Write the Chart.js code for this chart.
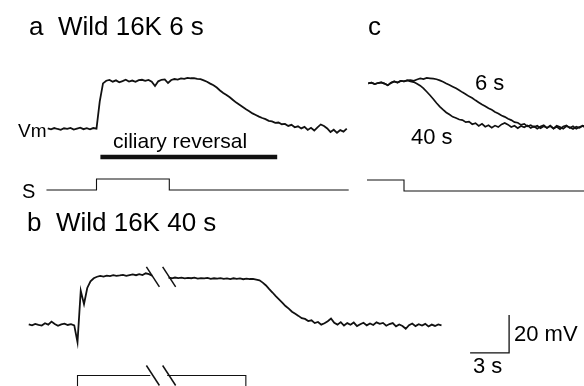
<!DOCTYPE html>
<html>
<head>
<meta charset="utf-8">
<script src="https://cdn.jsdelivr.net/npm/chart.js@4.4.1/dist/chart.umd.min.js"></script>
<style>
    body { margin: 0; background: #fff; }
    #wrap { position: relative; width: 584px; height: 386px; overflow: hidden; }
    #fig { position: absolute; left: 0; top: 0; }
    .lbl { position: absolute; white-space: pre; line-height: 1; color: #000;
           font-family: "Liberation Sans", Arial, Helvetica, sans-serif; }
</style>
</head>
<body>
<div id="wrap">
    <canvas id="fig" width="584" height="386"></canvas>
</div>
<script>
// sampling of the traces (s)
const DT = 0.25;

// a: Wild 16K, 6 s stimulus (mV from rest, first sample at -3.75 s)
const vmA = [
    0.3, -0.2, 0.5, 0.0, -0.4, 0.4, 0.1, 0.6, -0.3, 0.2, 0.7, -0.1, 0.4, -0.2, 0.5, 0.2,
    14.5, 24.0, 25.4,
    25.8, 24.9, 25.6, 24.6, 25.2, 25.9, 25.0, 25.5, 24.8, 25.7, 25.9, 25.3, 25.8, 24.9,
    22.6, 25.1, 25.9, 26.1, 24.2, 25.8, 26.3, 26.0, 26.6, 26.4, 26.9, 26.7, 26.8,
    26.4, 26.2, 25.6, 24.9, 23.9, 23.0, 21.8, 20.3, 19.0, 17.9, 16.7, 15.3, 13.9, 12.8,
    11.6, 10.4, 9.4, 8.2, 7.4, 6.5, 5.8, 5.2, 4.3, 4.0, 3.2, 3.4, 2.5, 2.7, 1.6, 2.2,
    0.9, 1.4, 0.3, 1.1, -0.5, 0.6, -0.8, 0.9, 2.4, 1.6, 0.3, -1.6, -0.4, -2.0, -0.6, -1.4, 0.2
];
const stimTimesA = [-3.85, 0, 0, 5.6, 5.6, 19.4];
const stimLevelsA = [0, 0, 1, 1, 0, 0];
const ciliaryReversal = [0.3, 13.9];

// c: both responses aligned on stimulus offset (first sample at -2.75 s)
const vmCBefore = [23.2, 23.6, 22.9, 23.4, 23.7, 23.1, 22.2, 23.5, 24.2, 23.7, 24.5, 24.3, 24.8];
const vmC6 = [
    25.0, 24.6, 25.3, 25.8, 25.5, 26.1, 25.9, 25.7, 25.4, 24.8,
    24.1, 23.2, 22.4, 21.5, 20.6, 19.6, 18.5, 17.5, 16.4, 15.5,
    14.3, 13.2, 12.1, 11.2, 10.1, 9.3, 8.2, 7.4, 6.3, 5.6,
    4.6, 3.9, 2.8, 2.5, 1.4, 1.9, 0.6, 1.2, 0.2, 0.9,
    -0.4, 0.7, -0.2, 1.0, -0.6, 0.4, -0.9, 0.5, 1.1, -0.3,
    0.6, -0.7, 0.3, 1.0, 0.1
];
const vmC40 = [
    24.3, 23.9, 23.0, 22.0, 20.6, 18.8, 17.0, 15.0, 12.9, 11.0,
    9.4, 7.9, 6.8, 5.6, 5.0, 4.2, 3.9, 2.8, 3.1, 1.7,
    2.3, 0.8, 1.9, 0.4, 1.2, -0.1, 1.0, 0.2, 1.6, 2.4,
    1.5, 0.3, 0.9, -0.4, 0.8, 0.1, 1.1, -0.3, 0.6, -0.6,
    0.5, 1.2, -0.2, 0.8, -0.5, 0.9, 0.2, -0.7, 0.7, 0.1,
    -0.8, 0.4, -0.2, 0.9, -0.4
];
const stimTimesC = [-2.85, 0, 0, 14.0];
const stimLevelsC = [1, 1, 0, 0];

// b: Wild 16K, 40 s stimulus, axis broken (first sample at -3.75 s)
const vmB = [
    0.3, -0.2, 0.6, 0.1, -0.3, 0.9, 0.2, 1.8, 0.5, -0.4, 0.3, 0.7, 0.0, 0.4, -0.2,
    -9.0, 18.0, 11.0, 19.5, 23.0, 24.6, 25.4,
    25.8, 25.5, 26.0, 25.7, 26.2, 25.9, 26.1, 26.4, 25.9, 26.3, 26.6, 26.2, 26.8, 26.3, 27.2, 26.8, 25.9,
    null, null, null, null,
    24.9, 24.6, 25.0, 24.7, 24.9, 24.5, 24.8, 24.6, 24.9, 24.4, 24.7, 24.5, 24.8, 24.3,
    24.6, 24.4, 24.7, 24.3, 24.5, 24.2, 24.6, 24.3, 24.5, 24.1, 24.4, 24.2, 24.3, 23.9,
    23.5, 22.3, 20.8, 18.9, 17.1, 15.2, 13.5, 11.8, 10.0, 8.6,
    7.0, 5.9, 4.8, 3.6, 3.2, 2.1, 2.5, 1.0, 1.6, 0.2,
    0.9, 2.0, 3.4, 1.1, 0.2, 1.5, -0.3, 1.0, 0.1, 1.3,
    -0.6, 0.4, 1.2, -0.2, 0.8, 0.0, 1.4, 0.6, 1.1, -0.4,
    0.5, 1.0, -0.7, 0.3, -0.5, -2.0, -0.1, 0.8, -0.6, 0.4,
    -0.3, 0.6, -0.8, 0.2, -0.5, 0.3, -0.2
];
const stimTimesB = [-3.8, 0, 0, 5.6, 6.2, 6.9, 12.95, 12.95, 28.0];
const stimLevelsB = [0, 0, 1, 1, null, 1, 1, 0, 0];
const breakTimesB = [5.8, 7.05];

// calibration
const scaleBarSec = 3;
const scaleBarMv = 20;

// layout: pixel of (t = 0, level = 0) for each panel, and pixels per unit
const W = 584, H = 386;
const PX_S = 13, PX_MV = 1.9, PX_STIM = 11;
const layout = {
    a:  { x0: 96.5, y0: 129, py: PX_MV },
    sa: { x0: 96.5, y0: 190, py: PX_STIM },
    c:  { x0: 404, y0: 127.5, py: PX_MV },
    sc: { x0: 404, y0: 191, py: PX_STIM },
    b:  { x0: 77.5, y0: 325, py: PX_MV },
    sb: { x0: 77.5, y0: 386.5, py: PX_STIM },
};
const CILIARY_LEVEL = -14.7;   // mV on panel a axes, where the bar sits
const BAR_CORNER = { t: 33.2, v: -14.7 };  // on panel b axes
const BREAK_LEVEL_VM = 25.3;

const labels = [
    { text: "a  Wild 16K 6 s", x: 29, y: 35, size: 26 },
    { text: "c", x: 368, y: 35, size: 26 },
    { text: "b  Wild 16K 40 s", x: 27, y: 231, size: 26 },
    { text: "Vm", x: 18, y: 137, size: 19 },
    { text: "S", x: 22, y: 198, size: 20 },
    { text: "ciliary reversal", x: 113, y: 148, size: 21 },
    { text: "6 s", x: 475, y: 91, size: 22 },
    { text: "40 s", x: 411, y: 145, size: 22 },
    { text: "20 mV", x: 514, y: 342, size: 22 },
    { text: "3 s", x: 473, y: 374, size: 22 },
];

const series = (t0, values) => values.map((v, i) => ({ x: t0 + i * DT, y: v }));
const pairs = (ts, vs) => ts.map((t, i) => ({ x: t, y: vs[i] }));

function buildScales() {
    const scales = {};
    for (const key in layout) {
        const p = layout[key];
        scales['x' + key] = { type: 'linear', display: false, min: -p.x0 / PX_S, max: (W - p.x0) / PX_S };
        scales['y' + key] = { type: 'linear', display: false, min: -(H - p.y0) / p.py, max: p.y0 / p.py };
    }
    return scales;
}

function line(key, data, width) {
    return {
        data: data,
        xAxisID: 'x' + key,
        yAxisID: 'y' + key,
        borderColor: '#111',
        borderWidth: width,
        pointRadius: 0,
        tension: 0,
        spanGaps: false,
        fill: false,
        clip: false,
    };
}

// slashes marking the break in panel b
const breakMarks = {
    id: 'breakMarks',
    afterDatasetsDraw(chart) {
        const ctx = chart.ctx;
        const xs = chart.scales.xb;
        const marks = [[chart.scales.yb, BREAK_LEVEL_VM], [chart.scales.ysb, 1]];
        ctx.save();
        ctx.strokeStyle = '#111';
        ctx.lineWidth = 1.5;
        for (const [ys, level] of marks) {
            for (const t of breakTimesB) {
                const px = xs.getPixelForValue(t);
                const py = ys.getPixelForValue(level);
                ctx.beginPath();
                ctx.moveTo(px - 6.5, py - 10);
                ctx.lineTo(px + 6.5, py + 10);
                ctx.stroke();
            }
        }
        ctx.restore();
    }
};

const datasets = [
    line('a', series(-3.75, vmA), 1.8),
    line('sa', pairs(stimTimesA, stimLevelsA), 1.1),
    line('a', pairs(ciliaryReversal, [CILIARY_LEVEL, CILIARY_LEVEL]), 4.5),
    line('c', series(-2.75, vmCBefore.concat(vmC6)), 1.7),
    line('c', series(-2.75, vmCBefore.concat(vmC40)), 1.7),
    line('sc', pairs(stimTimesC, stimLevelsC), 1.1),
    line('b', series(-3.75, vmB), 1.8),
    line('sb', pairs(stimTimesB, stimLevelsB), 1.1),
    line('b', [
        { x: BAR_CORNER.t - scaleBarSec, y: BAR_CORNER.v },
        { x: BAR_CORNER.t, y: BAR_CORNER.v },
        { x: BAR_CORNER.t, y: BAR_CORNER.v + scaleBarMv },
    ], 1.3),
];

new Chart(document.getElementById('fig'), {
    type: 'line',
    data: { datasets: datasets },
    options: {
        responsive: false,
        animation: false,
        events: [],
        layout: { padding: 0 },
        scales: buildScales(),
        plugins: { legend: { display: false }, tooltip: { enabled: false } },
    },
    plugins: [breakMarks],
});

const wrap = document.getElementById('wrap');
labels.forEach((l) => {
    const d = document.createElement('div');
    d.className = 'lbl';
    d.textContent = l.text;
    d.style.fontSize = l.size + 'px';
    d.style.left = l.x + 'px';
    d.style.top = (l.y - 0.8465 * l.size) + 'px';
    wrap.appendChild(d);
});
</script>
</body>
</html>
